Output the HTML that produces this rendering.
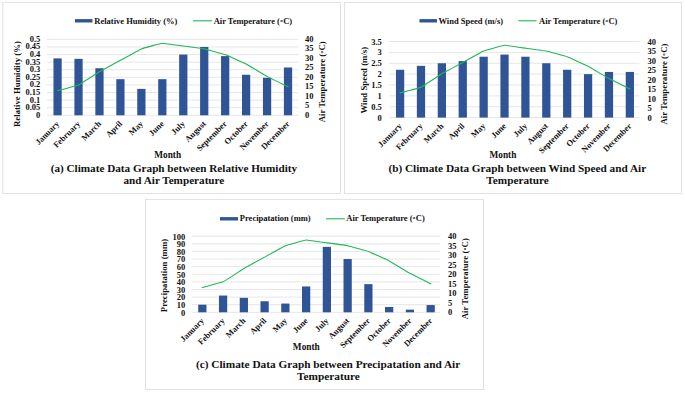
<!DOCTYPE html>
<html><head><meta charset="utf-8"><title>Climate Data Graphs</title>
<style>
html,body{margin:0;padding:0;background:#fff;}
svg{display:block;}
text{font-family:"Liberation Serif",serif;font-weight:bold;fill:#111;}
.tk{font-size:8.5px;}
.mo{font-size:8.4px;}
.ax{font-size:8.8px;}
.mn{font-size:9.3px;}
.lg{font-size:8.5px;}
.cp{font-size:11.18px;}
</style></head><body>
<svg width="685" height="393" viewBox="0 0 685 393">
<rect width="685" height="393" fill="#fff"/>
<rect x="2.8" y="2.4" width="337.7" height="191.1" fill="#fff" stroke="#e2e2e2" stroke-width="1"/>
<line x1="47" x2="298" y1="115.30" y2="115.30" stroke="#dedede" stroke-width="0.75"/>
<text x="40.3" y="117.80" text-anchor="end" class="tk">0</text>
<line x1="47" x2="298" y1="107.71" y2="107.71" stroke="#dedede" stroke-width="0.75"/>
<text x="40.3" y="110.21" text-anchor="end" class="tk">0.05</text>
<line x1="47" x2="298" y1="100.12" y2="100.12" stroke="#dedede" stroke-width="0.75"/>
<text x="40.3" y="102.62" text-anchor="end" class="tk">0.1</text>
<line x1="47" x2="298" y1="92.53" y2="92.53" stroke="#dedede" stroke-width="0.75"/>
<text x="40.3" y="95.03" text-anchor="end" class="tk">0.15</text>
<line x1="47" x2="298" y1="84.94" y2="84.94" stroke="#dedede" stroke-width="0.75"/>
<text x="40.3" y="87.44" text-anchor="end" class="tk">0.2</text>
<line x1="47" x2="298" y1="77.35" y2="77.35" stroke="#dedede" stroke-width="0.75"/>
<text x="40.3" y="79.85" text-anchor="end" class="tk">0.25</text>
<line x1="47" x2="298" y1="69.76" y2="69.76" stroke="#dedede" stroke-width="0.75"/>
<text x="40.3" y="72.26" text-anchor="end" class="tk">0.3</text>
<line x1="47" x2="298" y1="62.17" y2="62.17" stroke="#dedede" stroke-width="0.75"/>
<text x="40.3" y="64.67" text-anchor="end" class="tk">0.35</text>
<line x1="47" x2="298" y1="54.58" y2="54.58" stroke="#dedede" stroke-width="0.75"/>
<text x="40.3" y="57.08" text-anchor="end" class="tk">0.4</text>
<line x1="47" x2="298" y1="46.99" y2="46.99" stroke="#dedede" stroke-width="0.75"/>
<text x="40.3" y="49.49" text-anchor="end" class="tk">0.45</text>
<line x1="47" x2="298" y1="39.40" y2="39.40" stroke="#dedede" stroke-width="0.75"/>
<text x="40.3" y="41.90" text-anchor="end" class="tk">0.5</text>
<text x="305" y="117.80" text-anchor="start" class="tk">0</text>
<text x="305" y="108.31" text-anchor="start" class="tk">5</text>
<text x="305" y="98.82" text-anchor="start" class="tk">10</text>
<text x="305" y="89.34" text-anchor="start" class="tk">15</text>
<text x="305" y="79.85" text-anchor="start" class="tk">20</text>
<text x="305" y="70.36" text-anchor="start" class="tk">25</text>
<text x="305" y="60.87" text-anchor="start" class="tk">30</text>
<text x="305" y="51.39" text-anchor="start" class="tk">35</text>
<text x="305" y="41.90" text-anchor="start" class="tk">40</text>
<rect x="53.45" y="58.37" width="8.25" height="56.93" fill="#2f5597"/>
<rect x="74.40" y="58.83" width="8.25" height="56.47" fill="#2f5597"/>
<rect x="95.35" y="68.24" width="8.25" height="47.06" fill="#2f5597"/>
<rect x="116.30" y="79.17" width="8.25" height="36.13" fill="#2f5597"/>
<rect x="137.25" y="88.89" width="8.25" height="26.41" fill="#2f5597"/>
<rect x="158.20" y="79.17" width="8.25" height="36.13" fill="#2f5597"/>
<rect x="179.15" y="54.58" width="8.25" height="60.72" fill="#2f5597"/>
<rect x="200.10" y="46.99" width="8.25" height="68.31" fill="#2f5597"/>
<rect x="221.05" y="56.10" width="8.25" height="59.20" fill="#2f5597"/>
<rect x="242.00" y="74.77" width="8.25" height="40.53" fill="#2f5597"/>
<rect x="262.95" y="77.81" width="8.25" height="37.49" fill="#2f5597"/>
<rect x="283.90" y="67.48" width="8.25" height="47.82" fill="#2f5597"/>
<path d="M57.58,90.63 C58.20,90.46 77.27,85.51 78.53,84.94 C79.78,84.37 98.22,72.40 99.47,71.66 C100.73,70.92 119.17,60.96 120.43,60.27 C121.68,59.59 140.12,49.40 141.38,48.89 C142.63,48.38 161.07,43.28 162.32,43.19 C163.58,43.11 182.02,45.87 183.27,46.04 C184.53,46.21 202.97,48.63 204.22,48.89 C205.48,49.14 223.92,54.12 225.17,54.58 C226.43,55.04 244.87,63.41 246.12,64.07 C247.38,64.72 265.82,75.72 267.07,76.40 C268.33,77.08 287.40,86.52 288.02,86.84" fill="none" stroke="#20b758" stroke-width="1.1" stroke-linejoin="round" stroke-linecap="round"/>
<text transform="translate(59.78,124.30) rotate(-45)" text-anchor="end" class="mo">January</text>
<text transform="translate(80.73,124.30) rotate(-45)" text-anchor="end" class="mo">February</text>
<text transform="translate(101.67,124.30) rotate(-45)" text-anchor="end" class="mo">March</text>
<text transform="translate(122.63,124.30) rotate(-45)" text-anchor="end" class="mo">April</text>
<text transform="translate(143.57,124.30) rotate(-45)" text-anchor="end" class="mo">May</text>
<text transform="translate(164.52,124.30) rotate(-45)" text-anchor="end" class="mo">June</text>
<text transform="translate(185.47,124.30) rotate(-45)" text-anchor="end" class="mo">July</text>
<text transform="translate(206.42,124.30) rotate(-45)" text-anchor="end" class="mo">August</text>
<text transform="translate(227.37,124.30) rotate(-45)" text-anchor="end" class="mo">September</text>
<text transform="translate(248.32,124.30) rotate(-45)" text-anchor="end" class="mo">October</text>
<text transform="translate(269.27,124.30) rotate(-45)" text-anchor="end" class="mo">November</text>
<text transform="translate(290.22,124.30) rotate(-45)" text-anchor="end" class="mo">December</text>
<text transform="translate(20.4,84) rotate(-90)" text-anchor="middle" class="ax">Relative Humidity (%)</text>
<text transform="translate(325.2,81.8) rotate(-90)" text-anchor="middle" class="ax">Air Temperature (<tspan font-size="5" dy="-2.1" dx="0.3">o</tspan><tspan dy="2.1" dx="0.4">C)</tspan></text>
<text x="167.7" y="157.5" text-anchor="middle" class="mn">Month</text>
<rect x="75" y="19.1" width="17.5" height="3.4" fill="#2f5597"/>
<text x="94.3" y="23.7" class="lg">Relative Humidity (%)</text>
<line x1="193" x2="212" y1="20.8" y2="20.8" stroke="#20b758" stroke-width="1.1"/>
<text x="213.7" y="23.7" class="lg">Air Temperature (<tspan font-size="5" dy="-2.1" dx="0.3">o</tspan><tspan dy="2.1" dx="0.4">C)</tspan></text>
<text x="173.9" y="171.8" text-anchor="middle" class="cp" style="font-size:11.18px">(a) Climate Data Graph between Relative Humidity</text>
<text x="173.9" y="184" text-anchor="middle" class="cp" style="font-size:11.18px">and Air Temperature</text>
<rect x="344.5" y="2.5" width="337.0" height="191.0" fill="#fff" stroke="#e2e2e2" stroke-width="1"/>
<line x1="389" x2="639.5" y1="117.60" y2="117.60" stroke="#dedede" stroke-width="0.75"/>
<text x="381.8" y="120.60" text-anchor="end" class="tk">0</text>
<line x1="389" x2="639.5" y1="106.73" y2="106.73" stroke="#dedede" stroke-width="0.75"/>
<text x="381.8" y="109.73" text-anchor="end" class="tk">0.5</text>
<line x1="389" x2="639.5" y1="95.86" y2="95.86" stroke="#dedede" stroke-width="0.75"/>
<text x="381.8" y="98.86" text-anchor="end" class="tk">1</text>
<line x1="389" x2="639.5" y1="84.99" y2="84.99" stroke="#dedede" stroke-width="0.75"/>
<text x="381.8" y="87.99" text-anchor="end" class="tk">1.5</text>
<line x1="389" x2="639.5" y1="74.11" y2="74.11" stroke="#dedede" stroke-width="0.75"/>
<text x="381.8" y="77.11" text-anchor="end" class="tk">2</text>
<line x1="389" x2="639.5" y1="63.24" y2="63.24" stroke="#dedede" stroke-width="0.75"/>
<text x="381.8" y="66.24" text-anchor="end" class="tk">2.5</text>
<line x1="389" x2="639.5" y1="52.37" y2="52.37" stroke="#dedede" stroke-width="0.75"/>
<text x="381.8" y="55.37" text-anchor="end" class="tk">3</text>
<line x1="389" x2="639.5" y1="41.50" y2="41.50" stroke="#dedede" stroke-width="0.75"/>
<text x="381.8" y="44.50" text-anchor="end" class="tk">3.5</text>
<text x="647.5" y="120.60" text-anchor="start" class="tk">0</text>
<text x="647.5" y="111.09" text-anchor="start" class="tk">5</text>
<text x="647.5" y="101.57" text-anchor="start" class="tk">10</text>
<text x="647.5" y="92.06" text-anchor="start" class="tk">15</text>
<text x="647.5" y="82.55" text-anchor="start" class="tk">20</text>
<text x="647.5" y="73.04" text-anchor="start" class="tk">25</text>
<text x="647.5" y="63.52" text-anchor="start" class="tk">30</text>
<text x="647.5" y="54.01" text-anchor="start" class="tk">35</text>
<text x="647.5" y="44.50" text-anchor="start" class="tk">40</text>
<rect x="395.97" y="69.77" width="8.25" height="47.83" fill="#2f5597"/>
<rect x="416.86" y="65.85" width="8.25" height="51.75" fill="#2f5597"/>
<rect x="437.74" y="63.24" width="8.25" height="54.36" fill="#2f5597"/>
<rect x="458.63" y="61.07" width="8.25" height="56.53" fill="#2f5597"/>
<rect x="479.52" y="56.72" width="8.25" height="60.88" fill="#2f5597"/>
<rect x="500.41" y="54.55" width="8.25" height="63.05" fill="#2f5597"/>
<rect x="521.29" y="56.72" width="8.25" height="60.88" fill="#2f5597"/>
<rect x="542.18" y="63.24" width="8.25" height="54.36" fill="#2f5597"/>
<rect x="563.07" y="69.77" width="8.25" height="47.83" fill="#2f5597"/>
<rect x="583.96" y="74.11" width="8.25" height="43.49" fill="#2f5597"/>
<rect x="604.84" y="71.94" width="8.25" height="45.66" fill="#2f5597"/>
<rect x="625.73" y="71.94" width="8.25" height="45.66" fill="#2f5597"/>
<path d="M400.09,92.87 C400.72,92.70 419.73,87.73 420.98,87.16 C422.23,86.59 440.62,74.58 441.87,73.84 C443.12,73.10 461.50,63.11 462.76,62.43 C464.01,61.74 482.39,51.53 483.64,51.01 C484.90,50.50 503.28,45.39 504.53,45.31 C505.78,45.22 524.17,47.99 525.42,48.16 C526.67,48.33 545.05,50.76 546.31,51.01 C547.56,51.27 565.94,56.26 567.19,56.72 C568.45,57.18 586.83,65.58 588.08,66.23 C589.33,66.89 607.72,77.91 608.97,78.60 C610.22,79.28 629.23,88.75 629.86,89.06" fill="none" stroke="#20b758" stroke-width="1.1" stroke-linejoin="round" stroke-linecap="round"/>
<text transform="translate(402.29,126.60) rotate(-45)" text-anchor="end" class="mo">January</text>
<text transform="translate(423.18,126.60) rotate(-45)" text-anchor="end" class="mo">February</text>
<text transform="translate(444.07,126.60) rotate(-45)" text-anchor="end" class="mo">March</text>
<text transform="translate(464.96,126.60) rotate(-45)" text-anchor="end" class="mo">April</text>
<text transform="translate(485.84,126.60) rotate(-45)" text-anchor="end" class="mo">May</text>
<text transform="translate(506.73,126.60) rotate(-45)" text-anchor="end" class="mo">June</text>
<text transform="translate(527.62,126.60) rotate(-45)" text-anchor="end" class="mo">July</text>
<text transform="translate(548.51,126.60) rotate(-45)" text-anchor="end" class="mo">August</text>
<text transform="translate(569.39,126.60) rotate(-45)" text-anchor="end" class="mo">September</text>
<text transform="translate(590.28,126.60) rotate(-45)" text-anchor="end" class="mo">October</text>
<text transform="translate(611.17,126.60) rotate(-45)" text-anchor="end" class="mo">November</text>
<text transform="translate(632.06,126.60) rotate(-45)" text-anchor="end" class="mo">December</text>
<text transform="translate(367,80.2) rotate(-90)" text-anchor="middle" class="ax">Wind Speed (m/s)</text>
<text transform="translate(667,84) rotate(-90)" text-anchor="middle" class="ax">Air Temperature (<tspan font-size="5" dy="-2.1" dx="0.3">o</tspan><tspan dy="2.1" dx="0.4">C)</tspan></text>
<text x="502.9" y="157.6" text-anchor="middle" class="mn">Month</text>
<rect x="419.5" y="19.1" width="17.5" height="3.4" fill="#2f5597"/>
<text x="438.5" y="23.7" class="lg">Wind Speed (m/s)</text>
<line x1="518.3" x2="536.5" y1="20.8" y2="20.8" stroke="#20b758" stroke-width="1.1"/>
<text x="539" y="23.7" class="lg">Air Temperature (<tspan font-size="5" dy="-2.1" dx="0.3">o</tspan><tspan dy="2.1" dx="0.4">C)</tspan></text>
<text x="517.3" y="171.6" text-anchor="middle" class="cp" style="font-size:11.25px">(b) Climate Data Graph between Wind Speed and Air</text>
<text x="517.6" y="183.6" text-anchor="middle" class="cp" style="font-size:11.25px">Temperature</text>
<rect x="145.5" y="199.4" width="338.0" height="190.1" fill="#fff" stroke="#e2e2e2" stroke-width="1"/>
<line x1="192.2" x2="440" y1="312.30" y2="312.30" stroke="#dedede" stroke-width="0.75"/>
<text x="185.29999999999998" y="315.60" text-anchor="end" class="tk">0</text>
<line x1="192.2" x2="440" y1="304.69" y2="304.69" stroke="#dedede" stroke-width="0.75"/>
<text x="185.29999999999998" y="307.99" text-anchor="end" class="tk">10</text>
<line x1="192.2" x2="440" y1="297.08" y2="297.08" stroke="#dedede" stroke-width="0.75"/>
<text x="185.29999999999998" y="300.38" text-anchor="end" class="tk">20</text>
<line x1="192.2" x2="440" y1="289.47" y2="289.47" stroke="#dedede" stroke-width="0.75"/>
<text x="185.29999999999998" y="292.77" text-anchor="end" class="tk">30</text>
<line x1="192.2" x2="440" y1="281.86" y2="281.86" stroke="#dedede" stroke-width="0.75"/>
<text x="185.29999999999998" y="285.16" text-anchor="end" class="tk">40</text>
<line x1="192.2" x2="440" y1="274.25" y2="274.25" stroke="#dedede" stroke-width="0.75"/>
<text x="185.29999999999998" y="277.55" text-anchor="end" class="tk">50</text>
<line x1="192.2" x2="440" y1="266.64" y2="266.64" stroke="#dedede" stroke-width="0.75"/>
<text x="185.29999999999998" y="269.94" text-anchor="end" class="tk">60</text>
<line x1="192.2" x2="440" y1="259.03" y2="259.03" stroke="#dedede" stroke-width="0.75"/>
<text x="185.29999999999998" y="262.33" text-anchor="end" class="tk">70</text>
<line x1="192.2" x2="440" y1="251.42" y2="251.42" stroke="#dedede" stroke-width="0.75"/>
<text x="185.29999999999998" y="254.72" text-anchor="end" class="tk">80</text>
<line x1="192.2" x2="440" y1="243.81" y2="243.81" stroke="#dedede" stroke-width="0.75"/>
<text x="185.29999999999998" y="247.11" text-anchor="end" class="tk">90</text>
<line x1="192.2" x2="440" y1="236.20" y2="236.20" stroke="#dedede" stroke-width="0.75"/>
<text x="185.29999999999998" y="239.50" text-anchor="end" class="tk">100</text>
<text x="447.9" y="315.10" text-anchor="start" class="tk">0</text>
<text x="447.9" y="305.59" text-anchor="start" class="tk">5</text>
<text x="447.9" y="296.07" text-anchor="start" class="tk">10</text>
<text x="447.9" y="286.56" text-anchor="start" class="tk">15</text>
<text x="447.9" y="277.05" text-anchor="start" class="tk">20</text>
<text x="447.9" y="267.54" text-anchor="start" class="tk">25</text>
<text x="447.9" y="258.02" text-anchor="start" class="tk">30</text>
<text x="447.9" y="248.51" text-anchor="start" class="tk">35</text>
<text x="447.9" y="239.00" text-anchor="start" class="tk">40</text>
<rect x="198.20" y="304.69" width="8.25" height="7.61" fill="#2f5597"/>
<rect x="218.96" y="295.56" width="8.25" height="16.74" fill="#2f5597"/>
<rect x="239.72" y="297.84" width="8.25" height="14.46" fill="#2f5597"/>
<rect x="260.48" y="301.27" width="8.25" height="11.03" fill="#2f5597"/>
<rect x="281.24" y="303.55" width="8.25" height="8.75" fill="#2f5597"/>
<rect x="302.00" y="286.43" width="8.25" height="25.87" fill="#2f5597"/>
<rect x="322.75" y="246.85" width="8.25" height="65.45" fill="#2f5597"/>
<rect x="343.51" y="259.03" width="8.25" height="53.27" fill="#2f5597"/>
<rect x="364.27" y="284.14" width="8.25" height="28.16" fill="#2f5597"/>
<rect x="385.03" y="306.97" width="8.25" height="5.33" fill="#2f5597"/>
<rect x="405.79" y="309.64" width="8.25" height="2.66" fill="#2f5597"/>
<rect x="426.55" y="305.07" width="8.25" height="7.23" fill="#2f5597"/>
<path d="M202.33,287.57 C202.95,287.40 221.84,282.43 223.09,281.86 C224.33,281.29 242.60,269.28 243.85,268.54 C245.09,267.80 263.36,257.81 264.60,257.13 C265.85,256.44 284.12,246.23 285.36,245.71 C286.61,245.20 304.88,240.09 306.12,240.00 C307.37,239.92 325.63,242.69 326.88,242.86 C328.12,243.03 346.39,245.46 347.64,245.71 C348.88,245.97 367.15,250.96 368.40,251.42 C369.64,251.88 387.91,260.28 389.15,260.93 C390.40,261.59 408.67,272.61 409.91,273.30 C411.16,273.98 430.05,283.45 430.67,283.76" fill="none" stroke="#20b758" stroke-width="1.1" stroke-linejoin="round" stroke-linecap="round"/>
<text transform="translate(204.53,321.30) rotate(-45)" text-anchor="end" class="mo">January</text>
<text transform="translate(225.29,321.30) rotate(-45)" text-anchor="end" class="mo">February</text>
<text transform="translate(246.05,321.30) rotate(-45)" text-anchor="end" class="mo">March</text>
<text transform="translate(266.80,321.30) rotate(-45)" text-anchor="end" class="mo">April</text>
<text transform="translate(287.56,321.30) rotate(-45)" text-anchor="end" class="mo">May</text>
<text transform="translate(308.32,321.30) rotate(-45)" text-anchor="end" class="mo">June</text>
<text transform="translate(329.08,321.30) rotate(-45)" text-anchor="end" class="mo">July</text>
<text transform="translate(349.84,321.30) rotate(-45)" text-anchor="end" class="mo">August</text>
<text transform="translate(370.60,321.30) rotate(-45)" text-anchor="end" class="mo">September</text>
<text transform="translate(391.35,321.30) rotate(-45)" text-anchor="end" class="mo">October</text>
<text transform="translate(412.11,321.30) rotate(-45)" text-anchor="end" class="mo">November</text>
<text transform="translate(432.87,321.30) rotate(-45)" text-anchor="end" class="mo">December</text>
<text transform="translate(167,275.5) rotate(-90)" text-anchor="middle" class="ax">Precipatation (mm)</text>
<text transform="translate(468,278.7) rotate(-90)" text-anchor="middle" class="ax">Air Temperature (<tspan font-size="5" dy="-2.1" dx="0.3">o</tspan><tspan dy="2.1" dx="0.4">C)</tspan></text>
<text x="306.3" y="350" text-anchor="middle" class="mn">Month</text>
<rect x="220" y="217.10000000000002" width="18" height="3.4" fill="#2f5597"/>
<text x="239.8" y="221.4" class="lg">Precipatation (mm)</text>
<line x1="326" x2="345" y1="218.8" y2="218.8" stroke="#20b758" stroke-width="1.1"/>
<text x="346.3" y="221.4" class="lg">Air Temperature (<tspan font-size="5" dy="-2.1" dx="0.3">o</tspan><tspan dy="2.1" dx="0.4">C)</tspan></text>
<text x="328.1" y="368.1" text-anchor="middle" class="cp" style="font-size:11.3px">(c) Climate Data Graph between Precipatation and Air</text>
<text x="328.5" y="380.2" text-anchor="middle" class="cp" style="font-size:11.3px">Temperature</text>
</svg>
</body></html>
